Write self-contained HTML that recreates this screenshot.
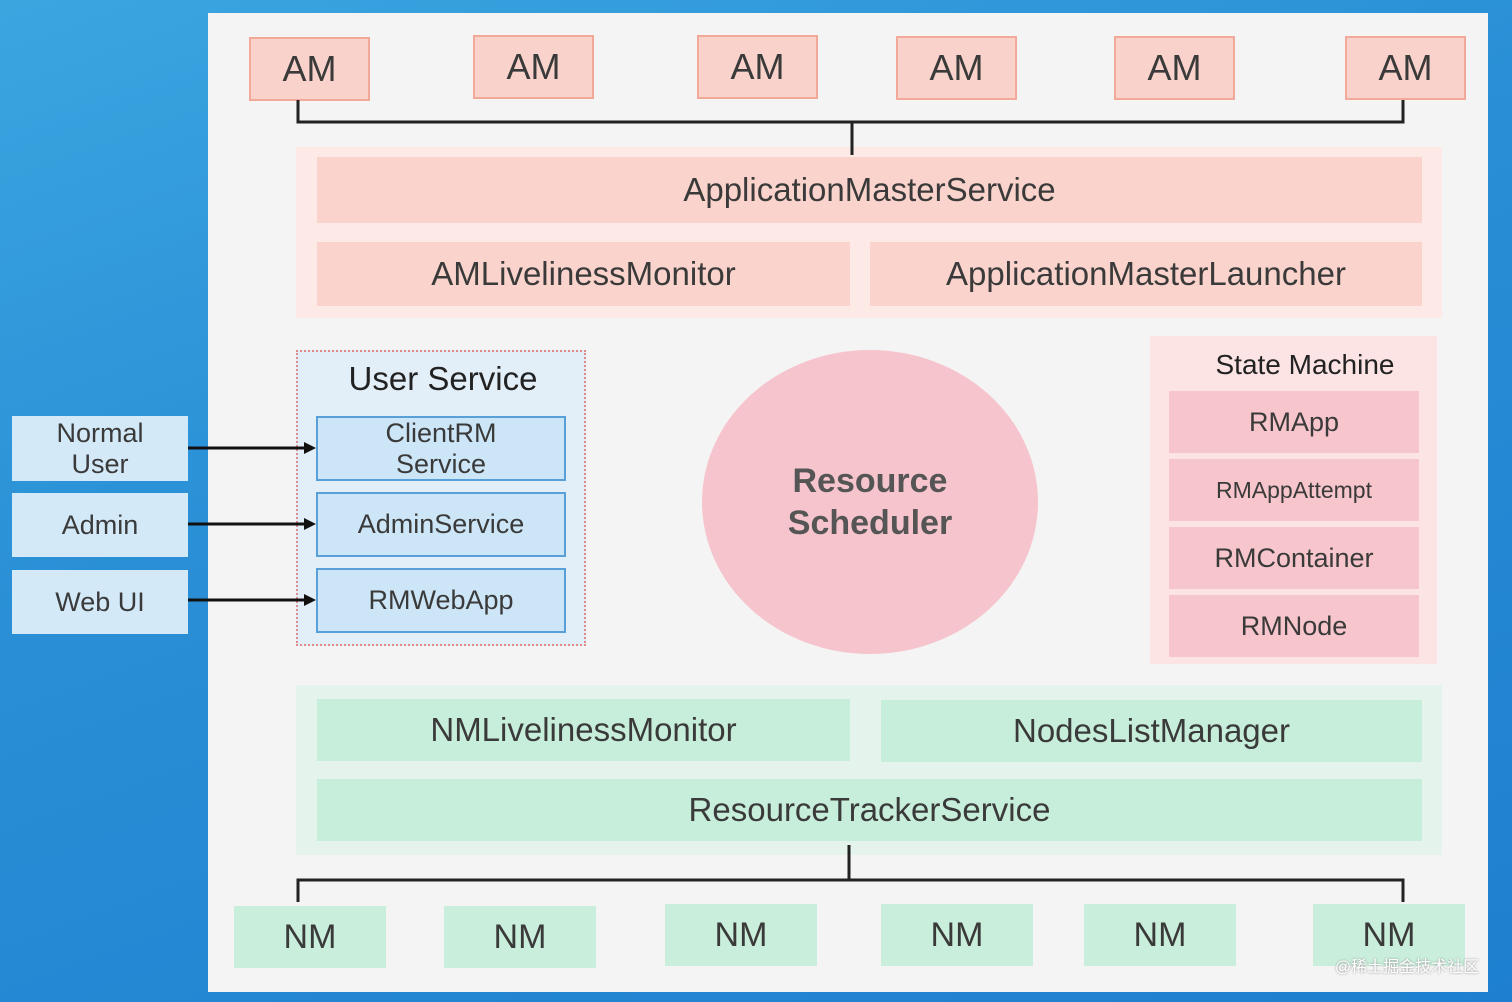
<!DOCTYPE html>
<html><head><meta charset="utf-8"><style>
body{margin:0;width:1512px;height:1002px;overflow:hidden;background:linear-gradient(160deg,#3aa6e0 0%,#2a8fd6 40%,#1e7fd0 100%);font-family:"Liberation Sans",sans-serif;color:#3a3a3a;position:relative}
div{position:absolute;box-sizing:border-box;display:flex;align-items:center;justify-content:center;text-align:center}
.am{background:#f9d3cb;border:2px solid #f2a99a;font-size:36px;width:121px;height:64px}
.nm{background:#c9eedb;font-size:34px;width:152px;height:62px}
.bar{background:#fad4cc;font-size:33px}
.g{background:#c7eedb;font-size:33px}
.sm{background:#f6c6cc;font-size:27px;left:1169px;width:250px;height:62px}
.u{background:#cde6f7;border:2px solid #5aa0d8;font-size:27px;left:316px;width:250px;line-height:31px}
.l{background:#d3e9f8;font-size:27px;left:12px;width:176px;line-height:31px}
</style></head><body>
<div style="left:208px;top:13px;width:1280px;height:979px;background:#f4f4f4"></div>
<div class="am" style="left:249px;top:37px">AM</div>
<div class="am" style="left:473px;top:35px">AM</div>
<div class="am" style="left:697px;top:35px">AM</div>
<div class="am" style="left:896px;top:36px">AM</div>
<div class="am" style="left:1114px;top:36px">AM</div>
<div class="am" style="left:1345px;top:36px">AM</div>
<div style="left:296px;top:147px;width:1146px;height:171px;background:#fde9e5"></div>
<div class="bar" style="left:317px;top:157px;width:1105px;height:66px">ApplicationMasterService</div>
<div class="bar" style="left:317px;top:242px;width:533px;height:64px">AMLivelinessMonitor</div>
<div class="bar" style="left:870px;top:242px;width:552px;height:64px">ApplicationMasterLauncher</div>
<div style="left:296px;top:350px;width:290px;height:296px;background:#e3eff8;border:2px dotted #e08a8a"></div>
<div style="left:300px;top:358px;width:286px;height:42px;font-size:33px;color:#222">User Service</div>
<div class="u" style="top:416px;height:65px">ClientRM<br>Service</div>
<div class="u" style="top:492px;height:65px">AdminService</div>
<div class="u" style="top:568px;height:65px">RMWebApp</div>
<div class="l" style="top:416px;height:65px">Normal<br>User</div>
<div class="l" style="top:493px;height:64px">Admin</div>
<div class="l" style="top:570px;height:64px">Web UI</div>
<div style="left:702px;top:350px;width:336px;height:304px;border-radius:50%;background:#f6c4cc;font-size:34px;font-weight:bold;color:#555;line-height:42px">Resource<br>Scheduler</div>
<div style="left:1150px;top:336px;width:287px;height:328px;background:#fce4e4"></div>
<div style="left:1169px;top:344px;width:272px;height:42px;font-size:28px;color:#222">State Machine</div>
<div class="sm" style="top:391px">RMApp</div>
<div class="sm" style="top:459px;font-size:23px">RMAppAttempt</div>
<div class="sm" style="top:527px">RMContainer</div>
<div class="sm" style="top:595px">RMNode</div>
<div style="left:296px;top:685px;width:1146px;height:170px;background:#e4f3ec"></div>
<div class="g" style="left:317px;top:699px;width:533px;height:62px">NMLivelinessMonitor</div>
<div class="g" style="left:881px;top:700px;width:541px;height:62px">NodesListManager</div>
<div class="g" style="left:317px;top:779px;width:1105px;height:62px">ResourceTrackerService</div>
<div class="nm" style="left:234px;top:906px">NM</div>
<div class="nm" style="left:444px;top:906px">NM</div>
<div class="nm" style="left:665px;top:904px">NM</div>
<div class="nm" style="left:881px;top:904px">NM</div>
<div class="nm" style="left:1084px;top:904px">NM</div>
<div class="nm" style="left:1313px;top:904px">NM</div>
<svg style="position:absolute;left:0;top:0" width="1512" height="1002">
<path d="M298 100 V122 H1403 V100 M852 122 V155" fill="none" stroke="#222" stroke-width="3"/>
<path d="M298 902 V880 H1403 V902 M849 880 V845" fill="none" stroke="#222" stroke-width="3"/>
<g stroke="#111" stroke-width="3"><line x1="188" y1="448" x2="305" y2="448"/><line x1="188" y1="524" x2="305" y2="524"/><line x1="188" y1="600" x2="305" y2="600"/></g>
<g fill="#111"><path d="M316 448 l-12 -6 v12z"/><path d="M316 524 l-12 -6 v12z"/><path d="M316 600 l-12 -6 v12z"/></g>
</svg>
<div style="left:1322px;top:953px;width:170px;height:24px;font-size:16px;color:#fff;font-family:'Liberation Sans','Noto Sans CJK SC',sans-serif;text-shadow:0 0 2px #888">@稀土掘金技术社区</div>
</body></html>
